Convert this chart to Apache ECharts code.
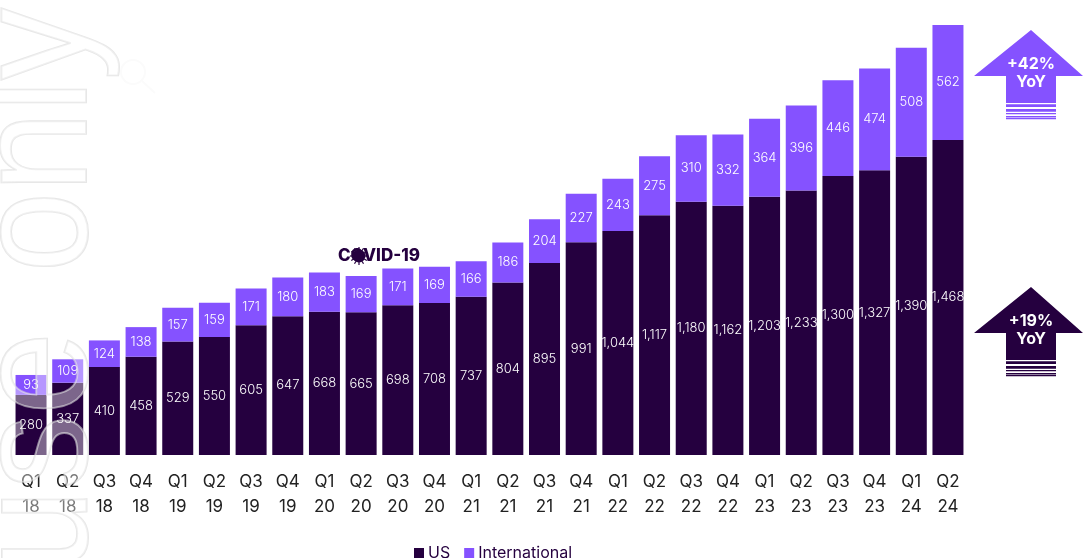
<!DOCTYPE html>
<html>
<head>
<meta charset="utf-8">
<style>
  html, body { margin: 0; padding: 0; background: #fff; }
  #chart { width: 1083px; height: 558px; }
</style>
<script src="https://cdn.jsdelivr.net/npm/echarts@6/dist/echarts.min.js"></script>
</head>
<body>
<div id="chart"></div>
<script>
const quarters = ['Q1\n18','Q2\n18','Q3\n18','Q4\n18','Q1\n19','Q2\n19','Q3\n19','Q4\n19','Q1\n20','Q2\n20','Q3\n20','Q4\n20','Q1\n21','Q2\n21','Q3\n21','Q4\n21','Q1\n22','Q2\n22','Q3\n22','Q4\n22','Q1\n23','Q2\n23','Q3\n23','Q4\n23','Q1\n24','Q2\n24']
const usValues = [280,337,410,458,529,550,605,647,668,665,698,708,737,804,895,991,1044,1117,1180,1162,1203,1233,1300,1327,1390,1468]
const intlValues = [93,109,124,138,157,159,171,180,183,169,171,169,166,186,204,227,243,275,310,332,364,396,446,474,508,562]

const DARK = '#25003f'
const PURPLE = '#8552ff'
const FONT = 'Inter'

function arrow(cy, color, top, label) {
  // cy = apex y, everything else hangs off that
  const els = [{
    type: 'polygon',
    z: 50,
    shape: { points: [[1031, cy], [1083, cy + 46], [1056, cy + 46], [1056, cy + 73], [1006, cy + 73], [1006, cy + 46], [974, cy + 46]] },
    style: { fill: color }
  }]
  const stripes = [[74.3, 2.7], [79, 2.7], [83, 1.3], [86, 1], [87.6, 1.6]]
  stripes.forEach(s => {
    els.push({ type: 'rect', z: 50, shape: { x: 1006, y: cy + s[0], width: 50, height: s[1] }, style: { fill: color } })
  })
  els.push({
    type: 'text', z: 51, x: 1031, y: top,
    style: { text: label, fill: '#fff', font: '700 16px ' + FONT, align: 'center', verticalAlign: 'middle', lineHeight: 18 }
  })
  return els
}

function watermark(text, y, scaleX) {
  return {
    type: 'text', z: 100, x: 122, y: y, rotation: Math.PI / 2, scaleX: scaleX,
    style: {
      text: text, font: '160px "Liberation Sans"', align: 'right', verticalAlign: 'bottom',
      fill: 'rgba(255,255,255,0.4)', stroke: 'rgba(215,215,215,0.6)', lineWidth: 2
    }
  }
}

const spikes = []
for (let i = 0; i < 12; i++) {
  const a = i * Math.PI / 6
  spikes.push({
    type: 'line', z: 52,
    shape: { x1: 359 + 6 * Math.cos(a), y1: 256 + 6 * Math.sin(a), x2: 359 + 9 * Math.cos(a), y2: 256 + 9 * Math.sin(a) },
    style: { stroke: DARK, lineWidth: 1.2 }
  })
}

const chart = echarts.init(document.getElementById('chart'))
chart.setOption({
  animation: false,
  textStyle: { fontFamily: FONT },
  grid: { left: 12.7, right: 116.7, top: 25, bottom: 103 },
  legend: {
    left: 409, top: 540, itemWidth: 10, itemHeight: 10, itemGap: 14,
    icon: 'rect',
    textStyle: { fontFamily: FONT, fontSize: 16, color: DARK, padding: [0, 0, 0, -1] },
    data: ['US', 'International']
  },
  xAxis: {
    type: 'category',
    data: quarters,
    axisLine: { show: false },
    axisTick: { show: false },
    axisLabel: { interval: 0, fontFamily: FONT, fontSize: 17, color: '#222', lineHeight: 25, margin: 14 }
  },
  // the last bar runs past the top of the plot in the original, so it gets clipped here too
  yAxis: { type: 'value', min: 0, max: 2004, show: false, splitLine: { show: false } },
  series: [
    {
      name: 'US', type: 'bar', stack: 'total', data: usValues, barWidth: 31,
      itemStyle: { color: DARK },
      label: { show: true, position: 'inside', color: '#fff', fontFamily: FONT, fontSize: 13, fontWeight: 300, formatter: p => p.value.toLocaleString('en-US') }
    },
    {
      name: 'International', type: 'bar', stack: 'total', data: intlValues, barWidth: 31,
      itemStyle: { color: PURPLE },
      label: { show: true, position: 'inside', color: '#fff', fontFamily: FONT, fontSize: 13, fontWeight: 300 }
    }
  ],
  graphic: [
    // watermark running up the left edge
    watermark('only', 8, 0.9),
    watermark('use', 332, 0.93),
    {
      type: 'circle', z: 1, shape: { cx: 133, cy: 72, r: 12 }, style: { fill: 'none', stroke: '#fbfbfb', lineWidth: 2 }
    },
    {
      type: 'line', z: 1, shape: { x1: 142, y1: 81, x2: 155, y2: 93 }, style: { stroke: '#fbfbfb', lineWidth: 2 }
    },
    ...arrow(30, PURPLE, 73, '+42%\nYoY'),
    ...arrow(287, DARK, 330, '+19%\nYoY'),
    {
      type: 'text', z: 51, x: 379, y: 256,
      style: { text: 'COVID-19', fill: DARK, font: '800 17px ' + FONT, align: 'center', verticalAlign: 'middle' }
    },
    { type: 'circle', z: 52, shape: { cx: 359, cy: 256, r: 6.5 }, style: { fill: DARK } },
    ...spikes
  ]
})
</script>
</body>
</html>
